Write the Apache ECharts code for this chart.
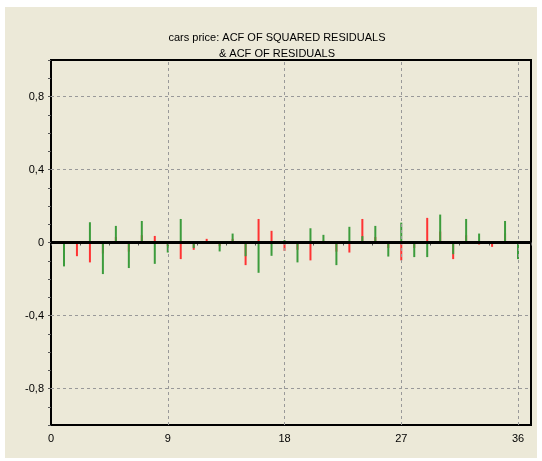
<!DOCTYPE html>
<html>
<head>
<meta charset="utf-8">
<script src="https://cdn.jsdelivr.net/npm/echarts@6/dist/echarts.min.js"></script>
<style>
  html, body { margin: 0; padding: 0; background: #ffffff; }
  #chart { width: 542px; height: 461px; }
</style>
</head>
<body>
<div id="chart"></div>
<script>
// Lags 1..36
const lags = [1,2,3,4,5,6,7,8,9,10,11,12,13,14,15,16,17,18,19,20,21,22,23,24,25,26,27,28,29,30,31,32,33,34,35,36];

// ACF of residuals (green)
const acfResiduals = [
  -0.131, 0.005, 0.111, -0.173, 0.091, -0.140, 0.118, -0.117, -0.055, 0.129,
  -0.030, 0.005, -0.049, 0.049, -0.075, -0.166, -0.073, 0.013, -0.109, 0.078,
  0.042, -0.124, 0.086, 0.035, 0.091, -0.077, 0.109, -0.080, -0.080, 0.153,
  -0.064, 0.129, 0.049, -0.005, 0.118, -0.091
];

// ACF of squared residuals (red)
const acfSquared = [
  -0.040, -0.075, -0.109, -0.060, 0.030, -0.050, 0.040, 0.036, -0.020, -0.091,
  -0.040, 0.020, -0.020, 0.020, -0.124, 0.129, 0.064, -0.046, -0.040, -0.098,
  0.010, -0.050, -0.055, 0.129, 0.030, -0.030, -0.098, -0.030, 0.135, 0.060,
  -0.091, 0.040, -0.011, -0.024, 0.050, -0.040
];

const xTickLabels = [0, 9, 18, 27, 36];
const yTickLabels = [-0.8, -0.4, 0, 0.4, 0.8];

const titleText = 'cars price: ACF OF SQUARED RESIDUALS\n& ACF OF RESIDUALS';

const font = '"Liberation Sans", Arial, sans-serif';

function pairs(values) {
  return lags.map((l, i) => [l, values[i]]);
}

function isLabelled(v, list) {
  return list.some(t => Math.abs(t - v) < 1e-6);
}

const chart = echarts.init(document.getElementById('chart'), null, { renderer: 'canvas' });

chart.setOption({
  animation: false,
  backgroundColor: 'transparent',
  graphic: [{
    type: 'rect',
    z: -10,
    shape: { x: 5, y: 7, width: 532, height: 451 },
    style: { fill: '#ECE9D8' },
    silent: true
  }],
  title: {
    text: titleText,
    left: 272,
    top: 25,
    textAlign: 'center',
    textStyle: { fontFamily: font, fontSize: 11, fontWeight: 'normal', color: '#000', lineHeight: 16 }
  },
  grid: {
    left: 51, top: 60, width: 480, height: 365,
    show: true, borderColor: '#000', borderWidth: 2, backgroundColor: 'transparent'
  },
  xAxis: {
    type: 'value',
    min: 0, max: 37, interval: 2.25,
    axisLine: { show: false },
    axisTick: { show: true, length: 3, lineStyle: { color: '#555' } },
    splitLine: { show: false },
    axisLabel: {
      margin: 8,
      fontFamily: font, fontSize: 11, color: '#000',
      formatter: v => isLabelled(v, xTickLabels) ? String(v) : ''
    }
  },
  yAxis: {
    type: 'value',
    min: -1, max: 1, interval: 0.1,
    axisLine: { show: false },
    axisTick: { show: true, length: 3, lineStyle: { color: '#555' } },
    splitLine: { show: false },
    axisLabel: {
      margin: 7,
      fontFamily: font, fontSize: 11, color: '#000',
      formatter: v => isLabelled(v, yTickLabels) ? String(Math.round(v * 10) / 10).replace('.', ',') : ''
    }
  },
  series: [
    {
      name: 'ACF of squared residuals',
      type: 'bar',
      data: pairs(acfSquared),
      barWidth: 2,
      barGap: '-100%',
      itemStyle: { color: '#ff3333' },
      markLine: {
        silent: true,
        symbol: 'none',
        label: { show: false },
        lineStyle: { color: '#999999', type: [3, 3], width: 1 },
        data: [
          { xAxis: 9 }, { xAxis: 18 }, { xAxis: 27 }, { xAxis: 36 },
          { yAxis: 0.8 }, { yAxis: 0.4 }, { yAxis: -0.4 }, { yAxis: -0.8 }
        ]
      },
      z: 2
    },
    {
      name: 'ACF of residuals',
      type: 'bar',
      data: pairs(acfResiduals),
      barWidth: 2,
      barGap: '-100%',
      itemStyle: { color: '#3c9c3c' },
      markLine: {
        silent: true,
        symbol: 'none',
        label: { show: false },
        lineStyle: { color: '#000', type: 'solid', width: 3 },
        data: [{ yAxis: 0 }]
      },
      z: 3
    }
  ]
});
</script>
</body>
</html>
